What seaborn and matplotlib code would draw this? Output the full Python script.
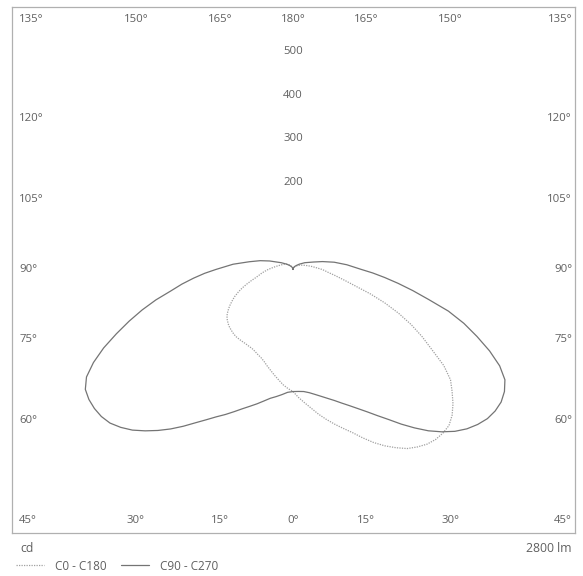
import numpy as np
import pandas as pd
import matplotlib
matplotlib.use("Agg")
import matplotlib.pyplot as plt
from matplotlib.lines import Line2D
import seaborn as sns

# gamma angles (deg from nadir) and luminous intensity (cd) per half plane
gamma = [0, 2.5, 5, 7.5, 10, 12.5, 15, 17.5, 20, 22.5,
         25, 27.5, 30, 32.5, 35, 37.5, 40, 42.5, 45, 47.5,
         50, 52.5, 55, 57.5, 60, 62.5, 65, 67.5, 70, 72.5,
         75, 77.5, 80, 82.5, 85, 87.5, 90,
         95, 100, 105, 110, 120, 130, 140, 150, 160, 170, 180]
c0 = [280, 294, 307, 321, 337, 352, 367, 382, 398, 418,
      438, 456, 472, 487, 497, 505, 509, 509, 506, 495,
      479, 460, 441, 410, 368, 334, 299, 262, 224, 186,
      150, 126, 108, 94, 82, 74, 67,
      52, 42, 34, 28, 20, 14, 10, 7, 4, 2, 0]
c180 = [280, 273, 265, 255, 246, 237, 229, 221, 215, 211,
        207, 204, 203, 202, 202, 202, 202, 201, 199, 197,
        194, 190, 185, 177, 168, 158, 148, 136, 124, 111,
        99, 88, 80, 74, 68, 62, 57,
        47, 40, 34, 30, 24, 19, 14, 9, 5, 2, 0]
c90 = [280, 280, 281, 285, 291, 298, 306, 315, 326, 338,
       352, 368, 387, 408, 433, 458, 483, 505, 525, 541,
       553, 562, 566, 566, 560, 548, 523, 488, 449, 411,
       369, 319, 279, 243, 211, 183, 157,
       124, 96, 70, 50, 31, 19, 12, 8, 5, 2, 0]
c270 = [280, 282, 288, 294, 300, 309, 319, 329, 340, 353,
        367, 381, 398, 417, 439, 461, 482, 502, 521, 536,
        548, 554, 556, 555, 550, 534, 505, 470, 431, 394,
        358, 322, 285, 257, 229, 203, 177,
        138, 102, 78, 57, 31, 19, 12, 8, 5, 2, 0]

radial_ticks = [200, 300, 400, 500]
bottom_ticks = [0, 15, 30, 45]
side_ticks = [60, 75, 90, 105, 120]
top_ticks = [135, 150, 165, 180]
flux_text = "2800 lm"
unit_text = "cd"
legend_labels = ["C0 - C180", "C90 - C270"]


def curve(right, left):
    g = np.radians(gamma)
    xr = np.array(right) * np.sin(g)
    yr = -np.array(right) * np.cos(g)
    xl = -np.array(left) * np.sin(g)
    yl = -np.array(left) * np.cos(g)
    return pd.DataFrame({"x": np.concatenate([xr[::-1], xl]),
                         "y": np.concatenate([yr[::-1], yl])})


sns.set_theme(style="white")
plt.rcParams["font.family"] = ["Open Sans", "DejaVu Sans"]

fig = plt.figure(figsize=(5.83, 5.76), dpi=100)
ax = fig.add_axes([12 / 583, 43 / 576, 563 / 583, 526 / 576])

dot_col = "#a0a0a0"
sol_col = "#747474"
c_dot = curve(c0, c180)
c_sol = curve(c90, c270)
sns.lineplot(data=c_dot, x="x", y="y", sort=False, estimator=None, ax=ax,
             color=dot_col, linewidth=0.9, linestyle=(0, (1, 1)))
sns.lineplot(data=c_sol, x="x", y="y", sort=False, estimator=None, ax=ax,
             color=sol_col, linewidth=0.9)

ax.set_xlim(-644.5, 646.8)
ax.set_ylim(-604.4, 602)
ax.set_xticks([])
ax.set_yticks([])
ax.set_xlabel("")
ax.set_ylabel("")
for s in ax.spines.values():
    s.set_color("#b0b0b0")
    s.set_linewidth(0.9)

tc = "#606060"
fs = 8.2
for r in radial_ticks:
    ax.text(0, r, str(r), ha="center", va="center", fontsize=fs, color=tc)

# angle labels around the frame
edge = 624
for a in bottom_ticks:
    x = edge * np.tan(np.radians(a))
    for sgn in ([1] if a == 0 else [-1, 1]):
        ha = "center"
        if a == 45:
            ha = "left" if sgn < 0 else "right"
            xx = -628 if sgn < 0 else 640
        else:
            xx = sgn * x
        ax.text(xx, -575, f"{a}°", ha=ha, va="center", fontsize=fs, color=tc)
for a in top_ticks:
    x = edge * np.tan(np.radians(180 - a))
    for sgn in ([1] if a == 180 else [-1, 1]):
        ha = "center"
        if a == 135:
            ha = "left" if sgn < 0 else "right"
            xx = -628 if sgn < 0 else 640
        else:
            xx = sgn * x
        ax.text(xx, 574, f"{a}°", ha=ha, va="center", fontsize=fs, color=tc)
for a in side_ticks:
    y = -600 / np.tan(np.radians(a)) if a != 90 else 0
    ax.text(-628, y, f"{a}°", ha="left", va="center", fontsize=fs, color=tc)
    ax.text(640, y, f"{a}°", ha="right", va="center", fontsize=fs, color=tc)

fig.text(20 / 583, 1 - 549 / 576, unit_text, ha="left", va="center", fontsize=8.8, color=tc)
fig.text(572 / 583, 1 - 549 / 576, flux_text, ha="right", va="center", fontsize=8.8, color=tc)

handles = [Line2D([], [], color=dot_col, linewidth=0.9, linestyle=(0, (1, 1))),
           Line2D([], [], color=sol_col, linewidth=0.9)]
fig.legend(handles, legend_labels, loc="center left", bbox_to_anchor=(16 / 583, 1 - 566 / 576),
           ncol=2, frameon=False, fontsize=8.5, handlelength=2.4, handletextpad=0.9,
           columnspacing=1.2, borderpad=0, borderaxespad=0, labelcolor=tc)

fig.savefig("out.png", dpi=100, facecolor="white")
